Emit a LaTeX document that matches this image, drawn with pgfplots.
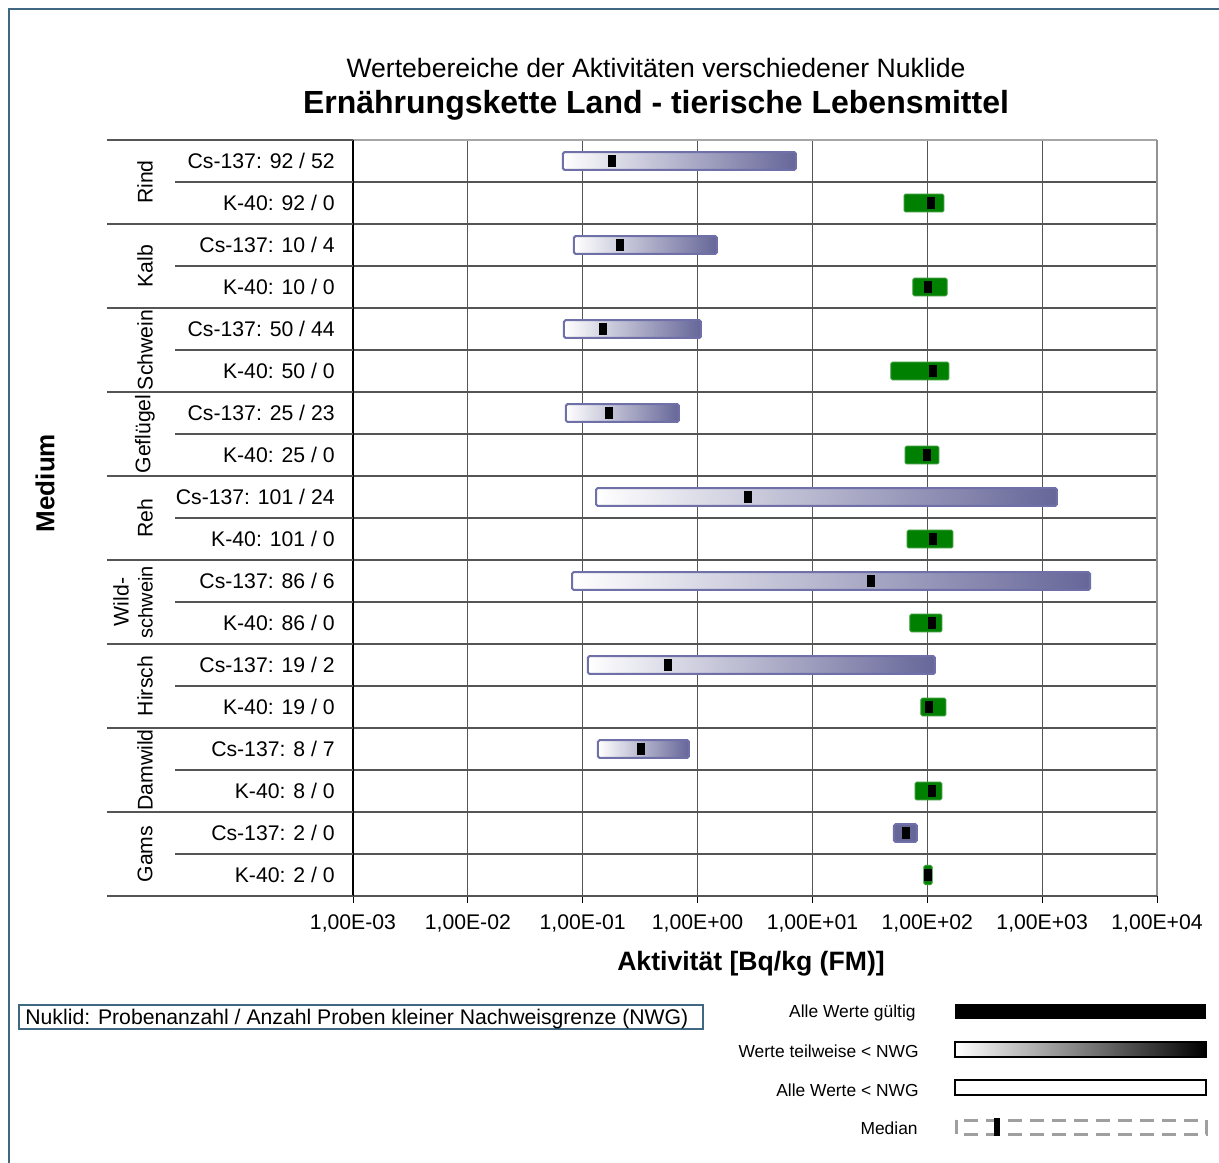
\documentclass[border=0pt]{standalone}
\usepackage{fontspec}
\setmainfont{Liberation Sans}
\usepackage{pgfplots}
\pgfplotsset{compat=1.18}

\definecolor{cs}{RGB}{102,102,153}
\definecolor{csline}{RGB}{112,112,168}
\definecolor{kgreen}{RGB}{0,128,0}
\definecolor{frame}{RGB}{64,104,130}
\definecolor{gridc}{RGB}{85,85,85}

\newcommand\fr{\fontsize{10.6}{13}\selectfont}
\newcommand\fl{\fontsize{8.7}{10}\selectfont}

% median marker: 8px x 12px
\pgfdeclareplotmark{med}{\pgfpathrectangle{\pgfqpoint{-2pt}{-3pt}}{\pgfqpoint{4pt}{6pt}}\pgfusepath{fill}}

% one floating bar: top, bottom, low, high, style
\newcommand\rangebar[5]{\addplot[#5] coordinates {(#3,#1) (#4,#1) (#4,#2) (#3,#2)} -- cycle;}

\pgfplotsset{
  partial/.style={draw=csline, line width=1pt, rounded corners=0.75pt, left color=white, right color=cs},
  valid/.style={draw=csline, line width=1pt, rounded corners=0.75pt, fill=cs},
  kvalid/.style={draw=kgreen!80!white, line width=0.5pt, rounded corners=0.75pt, fill=kgreen},
}

\begin{document}
\begin{tikzpicture}
\begin{scope}[x=0.5pt,y=-0.5pt]
\useasboundingbox (0,0) rectangle (1219,1162);
\draw[frame, line width=1pt] (9,9) rectangle (1260,1200);
\node[anchor=base] at (656,77.5) {\fontsize{13.3}{15}\selectfont Wertebereiche der Aktivitäten verschiedener Nuklide};
\node[anchor=base] at (656,113.5) {\fontsize{16}{19}\selectfont\bfseries Ernährungskette Land - tierische Lebensmittel};
\end{scope}

\begin{axis}[
  at={(176.5pt,-448pt)}, anchor=south west,
  scale only axis, width=402pt, height=378pt,
  xmode=log, log basis x=10,
  xmin=1e-3, xmax=1e4,
  ymin=-0.5, ymax=17.5, y dir=reverse,
  xtick={1e-3,1e-2,1e-1,1,10,100,1000,10000},
  xticklabels={{1,00E-03},{1,00E-02},{1,00E-01},{1,00E+00},{1,00E+01},{1,00E+02},{1,00E+03},{1,00E+04}},
  xminorticks=false,
  ytick={-0.5,0.5,...,17.5}, yticklabels={},
  ytick style={draw=none},
  xmajorgrids, ymajorgrids,
  grid style={gridc, line width=0.6pt},
  axis line style={draw=none},
  tick align=outside, xtick pos=left,
  major tick length=3.5pt,
  xtick style={black, line width=0.5pt},
  xticklabel style={font=\fr, inner sep=0pt, yshift=-5.5pt},
  clip=false,
]
% Rind
\rangebar{-0.21}{0.21}{0.0673}{7.19}{partial}
\rangebar{0.79}{1.21}{62.7}{139.7}{kvalid}
% Kalb
\rangebar{1.79}{2.21}{0.0839}{1.476}{partial}
\rangebar{2.79}{3.21}{75.1}{148.5}{kvalid}
% Schwein
\rangebar{3.79}{4.21}{0.0687}{1.071}{partial}
\rangebar{4.79}{5.21}{48.3}{154.5}{kvalid}
% Gefluegel
\rangebar{5.79}{6.21}{0.0714}{0.689}{partial}
\rangebar{6.79}{7.21}{64.0}{126.4}{kvalid}
% Reh
\rangebar{7.79}{8.21}{0.1306}{1346}{partial}
\rangebar{8.79}{9.21}{66.6}{167.4}{kvalid}
% Wildschwein
\rangebar{9.79}{10.21}{0.0807}{2611}{partial}
\rangebar{10.79}{11.21}{70.7}{134.3}{kvalid}
% Hirsch
\rangebar{11.79}{12.21}{0.111}{116.7}{partial}
\rangebar{12.79}{13.21}{88.1}{145.5}{kvalid}
% Damwild
\rangebar{13.79}{14.21}{0.1358}{0.841}{partial}
\rangebar{14.79}{15.21}{78.2}{134}{kvalid}
% Gams
\rangebar{15.79}{16.21}{51.3}{81.3}{valid}
\rangebar{16.77}{17.23}{93.6}{110}{kvalid}

\addplot[only marks, mark=med, black, fill=black] coordinates {
  (0.180,0) (107.7,1) (0.211,2) (101.4,3) (0.150,4) (112.1,5)
  (0.169,6) (99.4,7) (2.75,8) (112,9) (32.3,10) (109.9,11)
  (0.552,12) (103.5,13) (0.321,14) (110,15) (65.3,16) (101,17)};
\end{axis}

\begin{scope}[x=0.5pt,y=-0.5pt]
% axis frame
\draw[gray!70, line width=1.2pt] (353,140) -- (1157,140);
\draw[gray!85, line width=1.2pt] (1157,140) -- (1157,896);
\draw[gridc, line width=0.8pt] (353,896) -- (1157,896);
\draw[black, line width=1pt] (353,140) -- (353,896);

% left table
\draw[gridc, line width=0.6pt] foreach \y in {140,224,...,896} {(107,\y) -- (353,\y)};
\draw[gridc, line width=0.6pt] foreach \y in {182,266,...,854} {(175,\y) -- (353,\y)};

\foreach \t [count=\i from 0] in {Cs-137: 92 / 52, K-40: 92 / 0, Cs-137: 10 / 4, K-40: 10 / 0,
  Cs-137: 50 / 44, K-40: 50 / 0, Cs-137: 25 / 23, K-40: 25 / 0, Cs-137: 101 / 24, K-40: 101 / 0,
  Cs-137: 86 / 6, K-40: 86 / 0, Cs-137: 19 / 2, K-40: 19 / 0, Cs-137: 8 / 7, K-40: 8 / 0,
  Cs-137: 2 / 0, K-40: 2 / 0}
  \node[anchor=base east, inner sep=0pt] at (335,{168.5+42*\i}) {\fr \t};

\foreach \g/\i in {Rind/0, Kalb/1, Schwein/2, Geflügel/3, Reh/4, Hirsch/6, Damwild/7, Gams/8}
  \node[rotate=90, inner sep=0pt] at (145,{182+84*\i}) {\fr \g};
\node[rotate=90, align=center, inner sep=0pt] at (133,602) {\fr Wild-\\schwein};

\node[rotate=90] at (45,483) {\fontsize{13}{15}\selectfont\bfseries Medium};
\node at (751,964) {\fontsize{13.3}{15}\selectfont\bfseries Aktivität [Bq/kg (FM)]};

% note box
\draw[frame, line width=0.9pt] (19,1005) rectangle (703,1029);
\node[anchor=west, inner sep=0pt] at (25,1019) {\fr Nuklid: Probenanzahl / Anzahl Proben kleiner Nachweisgrenze (NWG)};

% legend
\node[anchor=east, inner sep=0pt] at (916,1013) {\fl Alle Werte gültig};
\node[anchor=east, inner sep=0pt] at (919,1051) {\fl Werte teilweise < NWG};
\node[anchor=east, inner sep=0pt] at (919,1090) {\fl Alle Werte < NWG};
\node[anchor=east, inner sep=0pt] at (918,1128) {\fl Median};
\fill[black] (955,1004) rectangle (1206,1019);
\shadedraw[left color=white, right color=black, draw=black, line width=1pt] (955,1042) rectangle (1206,1057);
\draw[black, line width=1pt, fill=white] (955,1080) rectangle (1206,1095);
\draw[gray!75, line width=1.5pt, dash pattern=on 7pt off 4pt] (956,1120) rectangle (1206,1134);
\fill[black] (994,1118) rectangle (1000,1136);
\end{scope}
\end{tikzpicture}
\end{document}
